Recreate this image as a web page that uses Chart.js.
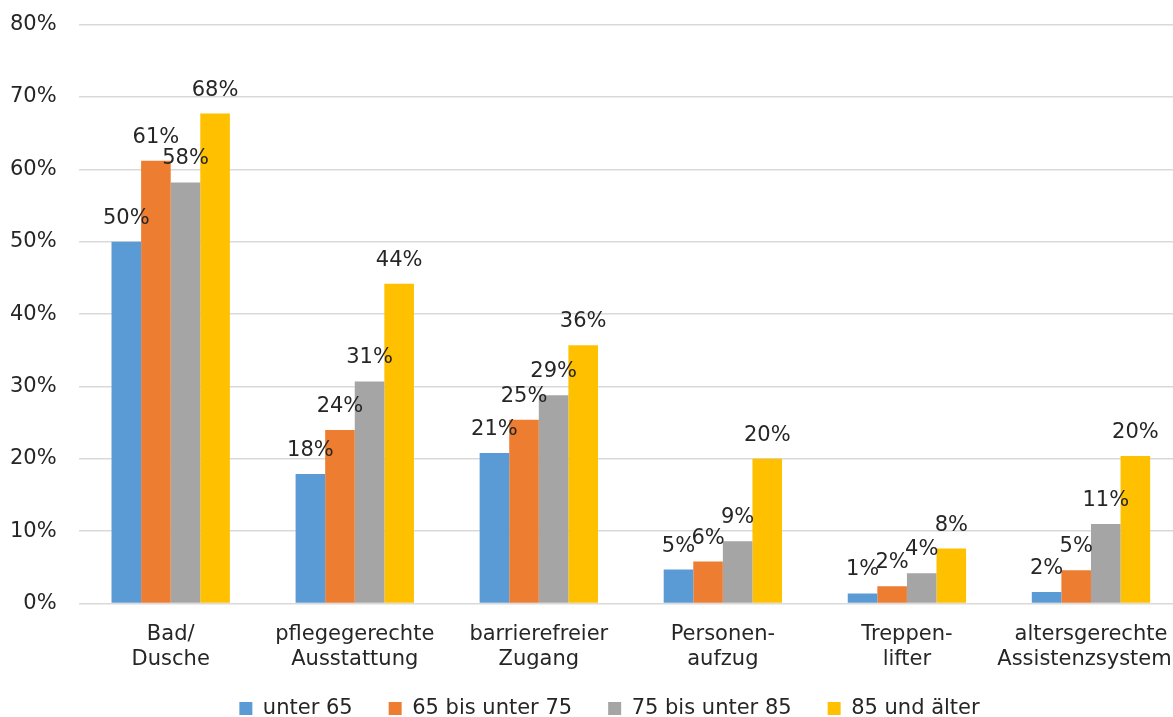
<!DOCTYPE html>
<html lang="de">
<head>
<meta charset="utf-8">
<script src="https://cdn.jsdelivr.net/npm/chart.js@4.4.1/dist/chart.umd.min.js"></script>
<style>
  html, body { margin: 0; padding: 0; background: #fff; overflow: hidden; width: 1173px; height: 717px; }
  .wrap { position: absolute; left: -12px; top: -10px; width: 1224px; height: 759px; }
</style>
</head>
<body>
<div class="wrap"><canvas id="chart"></canvas></div>
<script>
// Wohnungsanpassungen nach Altersgruppe
const categories = [
    ['Bad/', 'Dusche'],
    ['pflegegerechte', 'Ausstattung'],
    ['barrierefreier', 'Zugang'],
    ['Personen-', 'aufzug'],
    ['Treppen-', 'lifter'],
    ['altersgerechte', 'Assistenzsysteme']
];
const seriesNames = ['unter 65', '65 bis unter 75', '75 bis unter 85', '85 und älter'];
const unter65 = [50.0, 17.9, 20.8, 4.7, 1.4, 1.6];
const von65bis75 = [61.2, 24.0, 25.4, 5.8, 2.4, 4.6];
const von75bis85 = [58.2, 30.7, 28.8, 8.6, 4.2, 11.0];
const ab85 = [67.7, 44.2, 35.7, 20.0, 7.6, 20.4];
const yTicks = [0, 10, 20, 30, 40, 50, 60, 70, 80];

const colors = ['#5b9bd5', '#ed7d31', '#a5a5a5', '#ffc000'];
const textColor = '#262626';
const font = { family: 'DejaVu Sans', size: 21 };

// Prozentwerte über den Balken
const valueLabels = {
    id: 'valueLabels',
    afterDatasetsDraw(chart) {
        const ctx = chart.ctx;
        ctx.save();
        ctx.font = font.size + 'px ' + font.family;
        ctx.fillStyle = textColor;
        ctx.textAlign = 'center';
        ctx.textBaseline = 'alphabetic';
        chart.data.datasets.forEach((ds, i) => {
            chart.getDatasetMeta(i).data.forEach((bar, j) => {
                ctx.fillText(Math.round(ds.data[j]) + '%', bar.x, bar.y - 18);
            });
        });
        ctx.restore();
    }
};

// Legende etwas nach rechts und näher an die Achsenbeschriftung rücken
const legendShift = {
    id: 'legendShift',
    afterLayout(chart) {
        const lg = chart.legend;
        lg.left += 24; lg.right += 24;
        lg.top -= 20; lg.bottom -= 20;
    }
};

const chart = new Chart(document.getElementById('chart'), {
    type: 'bar',
    data: {
        labels: categories,
        datasets: [unter65, von65bis75, von75bis85, ab85].map((d, i) => ({
            label: seriesNames[i],
            data: d,
            backgroundColor: colors[i],
            categoryPercentage: 0.643,
            barPercentage: 1
        }))
    },
    options: {
        responsive: true,
        maintainAspectRatio: false,
        animation: false,
        layout: { padding: { top: 0, left: 0, right: 29, bottom: 0 } },
        plugins: {
            tooltip: { enabled: false },
            legend: {
                position: 'bottom',
                labels: {
                    color: textColor,
                    font: font,
                    boxWidth: 13,
                    boxHeight: 13,
                    padding: 36
                }
            }
        },
        scales: {
            x: {
                grid: { display: false },
                border: { display: false },
                ticks: { color: textColor, font: font, padding: 10, maxRotation: 0, autoSkip: false }
            },
            y: {
                min: 0,
                max: 80,
                afterBuildTicks(axis) { axis.ticks = yTicks.map(v => ({ value: v })); },
                grid: { color: '#d9d9d9', lineWidth: 1.5, drawTicks: false },
                border: { display: false },
                ticks: { color: textColor, font: font, padding: 22, callback: v => v + '%' }
            }
        }
    },
    plugins: [valueLabels, legendShift]
});
</script>
</body>
</html>
